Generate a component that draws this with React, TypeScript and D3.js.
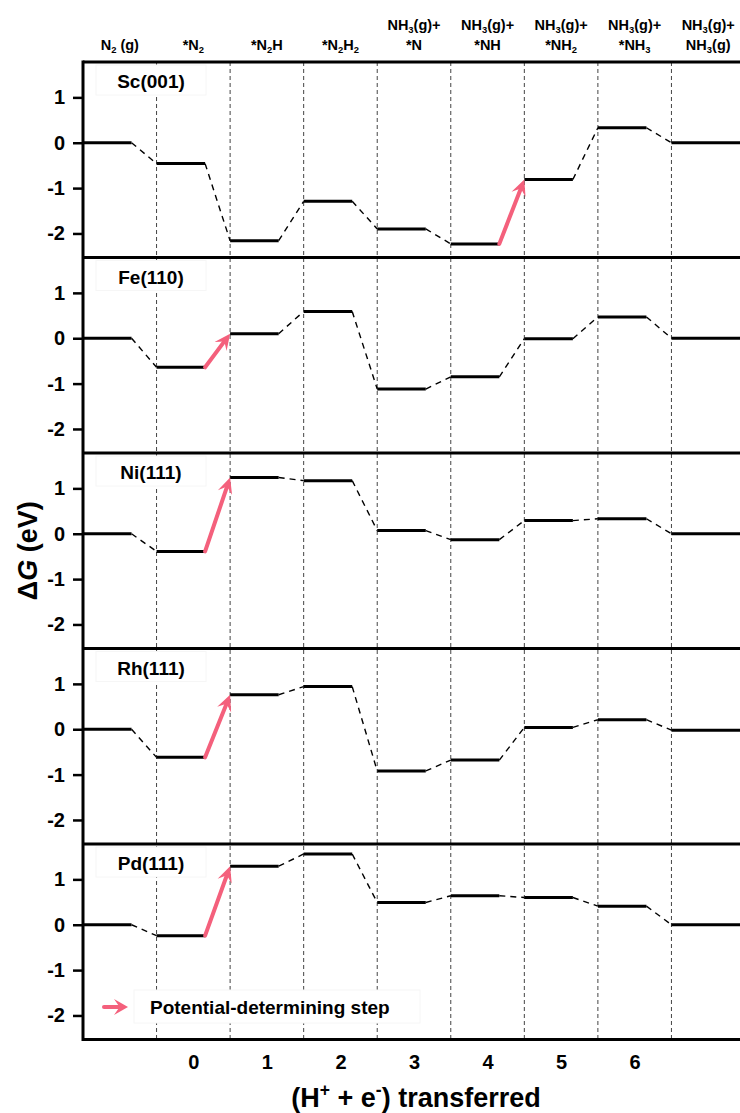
import React, { useEffect, useRef } from 'react';
import * as d3 from 'd3';

// intermediate labels above the plot (_x = subscript)
const stepLabels = [
  ['N_2 (g)'],
  ['*N_2'],
  ['*N_2H'],
  ['*N_2H_2'],
  ['NH_3(g)+', '*N'],
  ['NH_3(g)+', '*NH'],
  ['NH_3(g)+', '*NH_2'],
  ['NH_3(g)+', '*NH_3'],
  ['NH_3(g)+', 'NH_3(g)'],
];
const surfaces = ['Sc(001)', 'Fe(110)', 'Ni(111)', 'Rh(111)', 'Pd(111)'];

// free energy (eV) of each intermediate
const scEnergy = [0, -0.46, -2.16, -1.29, -1.9, -2.23, -0.81, 0.33, 0];
const feEnergy = [0, -0.64, 0.1, 0.59, -1.12, -0.85, -0.01, 0.47, 0];
const niEnergy = [0, -0.39, 1.24, 1.17, 0.07, -0.13, 0.29, 0.33, 0];
const rhEnergy = [0, -0.62, 0.76, 0.94, -0.92, -0.68, 0.04, 0.21, -0.02];
const pdEnergy = [0, -0.24, 1.29, 1.56, 0.49, 0.64, 0.6, 0.41, 0];
const energies = [scEnergy, feEnergy, niEnergy, rhEnergy, pdEnergy];

// potential-determining step starts at this level index
const pdsStep = [5, 1, 1, 1, 1];

const yTicks = [1, 0, -1, -2];
const xTicks = [0, 1, 2, 3, 4, 5, 6];

const FONT = 'Liberation Sans, Arial, sans-serif';
const ARROW = '#f4607c';

// text with _x subscripts and ^x superscripts
function rich(sel: any, str: string, size: number) {
  const parts = str.split(/([_^].)/).filter(Boolean);
  let shift = 0;
  parts.forEach((p) => {
    let target = 0;
    let txt = p;
    let fs: number | null = null;
    if (p.length === 2 && p[0] === '_') {
      target = size * 0.22; txt = p[1]; fs = size * 0.65;
    } else if (p.length === 2 && p[0] === '^') {
      target = -size * 0.4; txt = p[1]; fs = size * 0.65;
    }
    const t = sel.append('tspan').text(txt).attr('dy', target - shift);
    if (fs) t.attr('font-size', fs);
    shift = target;
  });
}

function arrowHead(g: any, x0: number, y0: number, x1: number, y1: number, len: number, half: number) {
  const dx = x1 - x0, dy = y1 - y0;
  const L = Math.hypot(dx, dy);
  const ux = dx / L, uy = dy / L;
  const px = -uy, py = ux;
  const bx = x1 - ux * len, by = y1 - uy * len;
  const nx = x1 - ux * len * 0.6, ny = y1 - uy * len * 0.6;
  g.append('line')
    .attr('x1', x0).attr('y1', y0).attr('x2', nx).attr('y2', ny)
    .attr('stroke', ARROW).attr('stroke-width', 4).attr('stroke-linecap', 'round');
  g.append('path')
    .attr('d', `M${x1},${y1}L${bx + px * half},${by + py * half}L${nx},${ny}L${bx - px * half},${by - py * half}Z`)
    .attr('fill', ARROW);
}

const App = () => {
  const svgRef = useRef<SVGSVGElement>(null);

  useEffect(() => {
    const svg = d3.select(svgRef.current);
    svg.selectAll('*').remove();

    const width = 740;
    const plotTop = 62;
    const panelH = 195.5;
    const plotBottom = plotTop + panelH * surfaces.length;
    const left = 83;

    const x = d3.scaleLinear().domain([-1.5, 7.5]).range([left, 745]);
    const barLen = 0.66;

    // category labels on top
    stepLabels.forEach((lines, k) => {
      lines.forEach((ln, j) => {
        const base = lines.length === 1 ? 50 : 30 + j * 20;
        const t = svg.append('text')
          .attr('x', x(k - 1)).attr('y', base)
          .attr('text-anchor', 'middle')
          .attr('font-family', FONT).attr('font-weight', 'bold').attr('font-size', 14.5)
          .style('white-space', 'pre');
        rich(t, ln, 14.5);
      });
    });

    // vertical dashed separators
    d3.range(-0.5, 7, 1).forEach((v) => {
      svg.append('line')
        .attr('x1', x(v)).attr('x2', x(v))
        .attr('y1', plotTop).attr('y2', plotBottom)
        .attr('stroke', '#444').attr('stroke-width', 1)
        .attr('stroke-dasharray', '4,3');
    });

    surfaces.forEach((name, i) => {
      const top = plotTop + i * panelH;
      const y = d3.scaleLinear().domain([-2.53, 1.78]).range([top + panelH, top]);
      const vals = energies[i];
      const g = svg.append('g');

      // label box
      g.append('rect')
        .attr('x', 96).attr('y', top + 3).attr('width', 110).attr('height', 30)
        .attr('fill', 'white').attr('stroke', '#f6f6f6');
      g.append('text')
        .attr('x', 151).attr('y', top + 26)
        .attr('text-anchor', 'middle')
        .attr('font-family', FONT).attr('font-weight', 'bold').attr('font-size', 19)
        .text(name);

      // energy levels
      vals.forEach((v, k) => {
        const xs = k - 1.5;
        const xe = k === vals.length - 1 ? 7.5 : xs + barLen;
        g.append('line')
          .attr('x1', x(xs)).attr('x2', x(xe))
          .attr('y1', y(v)).attr('y2', y(v))
          .attr('stroke', '#000').attr('stroke-width', 3);
      });

      // connectors
      vals.slice(0, -1).forEach((v, k) => {
        const xa = x(k - 1.5 + barLen);
        const xb = x(k - 0.5);
        if (k === pdsStep[i]) {
          arrowHead(g, xa, y(v), xb, y(vals[k + 1]), 16, 7.5);
        } else {
          g.append('line')
            .attr('x1', xa).attr('x2', xb)
            .attr('y1', y(v)).attr('y2', y(vals[k + 1]))
            .attr('stroke', '#000').attr('stroke-width', 1.4)
            .attr('stroke-dasharray', '6,5');
        }
      });

      // y axis ticks
      const ax = svg.append('g')
        .attr('transform', `translate(${left},0)`)
        .call(d3.axisLeft(y).tickValues(yTicks).tickSize(10).tickPadding(8).tickFormat((d: any) => String(d)));
      ax.select('.domain').remove();
      ax.selectAll('line').attr('stroke-width', 2.5);
      ax.selectAll('text')
        .attr('font-family', FONT).attr('font-weight', 'bold').attr('font-size', 20);

      // panel top border
      svg.append('line')
        .attr('x1', left).attr('x2', width)
        .attr('y1', top).attr('y2', top)
        .attr('stroke', '#000').attr('stroke-width', 3);
    });

    // legend
    const lg = svg.append('g');
    lg.append('rect')
      .attr('x', 134).attr('y', 990).attr('width', 286).attr('height', 33)
      .attr('fill', 'white').attr('stroke', '#f6f6f6');
    arrowHead(lg, 104, 1007, 128, 1007, 14, 8);
    lg.append('text')
      .attr('x', 150).attr('y', 1014)
      .attr('font-family', FONT).attr('font-weight', 'bold').attr('font-size', 19)
      .text('Potential-determining step');

    // bottom axis
    const bx = svg.append('g')
      .attr('transform', `translate(0,${plotBottom})`)
      .call(d3.axisBottom(x).tickValues(xTicks).tickSize(0).tickPadding(15).tickFormat((d: any) => String(d)));
    bx.select('.domain').remove();
    bx.selectAll('text')
      .attr('font-family', FONT).attr('font-weight', 'bold').attr('font-size', 20);

    svg.append('line')
      .attr('x1', left).attr('x2', width)
      .attr('y1', plotBottom).attr('y2', plotBottom)
      .attr('stroke', '#000').attr('stroke-width', 3);
    svg.append('line')
      .attr('x1', left).attr('x2', left)
      .attr('y1', plotTop - 1.5).attr('y2', plotBottom + 1.5)
      .attr('stroke', '#000').attr('stroke-width', 3);

    // axis titles
    const xt = svg.append('text')
      .attr('x', 416).attr('y', 1107)
      .attr('text-anchor', 'middle')
      .attr('font-family', FONT).attr('font-weight', 'bold').attr('font-size', 27)
      .style('white-space', 'pre');
    rich(xt, '(H^+ + e^-) transferred', 27);

    const yt = svg.append('text')
      .attr('transform', `translate(37,${(plotTop + plotBottom) / 2}) rotate(-90)`)
      .attr('text-anchor', 'middle')
      .attr('font-family', FONT).attr('font-weight', 'bold').attr('font-size', 27)
      .style('white-space', 'pre');
    yt.append('tspan').text('\u0394');
    yt.append('tspan').attr('font-style', 'italic').text('G');
    yt.append('tspan').text(' (eV)');
  }, []);

  return (
    <svg ref={svgRef} width={740} height={1113}
      style={{ position: 'absolute', left: 0, top: 0, background: 'white' }} />
  );
};

export default App;
